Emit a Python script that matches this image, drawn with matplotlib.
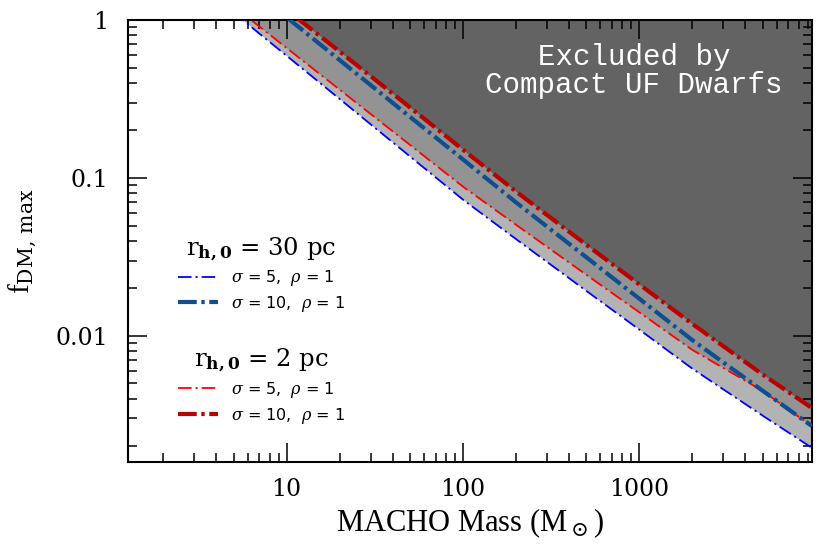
import numpy as np
import matplotlib.pyplot as plt

# MACHO mass grid (Msun) and upper limits on f_DM
mass = [5, 7, 10, 20, 50, 100, 200, 500, 1000, 2000, 5000, 9500]

# r_h,0 = 30 pc
f_r30_s5 = [1.12, 0.82, 0.594, 0.316, 0.137, 0.0729, 0.041, 0.0193, 0.01096, 0.0062, 0.00313, 0.00196]
f_r30_s10 = [1.94, 1.44, 1.04, 0.557, 0.244, 0.131, 0.070, 0.0315, 0.0172, 0.0094, 0.0045, 0.00269]
# r_h,0 = 2 pc
f_r2_s5 = [1.22, 0.91, 0.665, 0.362, 0.162, 0.0881, 0.0505, 0.0244, 0.0141, 0.00815, 0.00449, 0.00268]
f_r2_s10 = [2.15, 1.60, 1.16, 0.631, 0.28, 0.151, 0.082, 0.0378, 0.0212, 0.0119, 0.0057, 0.0035]

plt.rcParams['font.family'] = ['DejaVu Serif']
plt.rcParams['mathtext.fontset'] = 'dejavuserif'

fig = plt.figure(figsize=(8.3, 5.54), dpi=100)
ax = fig.add_axes([0.1542, 0.1652, 0.978 - 0.1542, 0.9639 - 0.1652])

top = np.ones(len(mass)) * 10
# shaded exclusion regions, lightest first
ax.fill_between(mass, f_r30_s5, top, color='#b3b3b3', lw=0, zorder=1)
ax.fill_between(mass, f_r2_s5, top, color='#939393', lw=0, zorder=1.1)
ax.fill_between(mass, f_r2_s10, top, color='#636363', lw=0, zorder=1.2)

thin = dict(lw=1.3, ls=(0, (7.5, 2.2, 1.2, 2.2)))
thick = dict(lw=3.0, ls=(0, (4.5, 1.1, 0.8, 1.1)))

l1, = ax.plot(mass, f_r30_s5, color='#0000ff', zorder=3, **thin)
l3, = ax.plot(mass, f_r2_s5, color='#ff0000', zorder=3, **thin)
l2, = ax.plot(mass, f_r30_s10, color='#0f4f8f', zorder=4, **thick)
l4, = ax.plot(mass, f_r2_s10, color='#bb0000', zorder=4, **thick)

ax.set_xscale('log')
ax.set_yscale('log')
ax.set_xlim(1.26, 9500)
ax.set_ylim(0.00158, 1)

ax.set_xticks([10, 100, 1000])
ax.set_xticklabels(['10', '100', '1000'])
ax.set_yticks([0.01, 0.1, 1])
ax.set_yticklabels(['0.01', '0.1', '1'])
ax.tick_params(which='both', direction='in', top=True, right=True, width=1.1, labelsize=17)
ax.tick_params(which='major', length=13.5)
ax.tick_params(which='minor', length=6.5)
ax.tick_params(axis='y', which='major', pad=14)
ax.tick_params(axis='x', which='major', pad=11)
for s in ax.spines.values():
    s.set_linewidth(1.5)

ax.set_xlabel(r'MACHO Mass (M$_\odot$)', family=['Liberation Serif'], fontsize=22, labelpad=4)
ax.set_ylabel(r'f$_{\rm DM,\,max}$', family=['Liberation Serif'], fontsize=21, labelpad=12)

ax.text(0.74, 0.885, 'Excluded by\nCompact UF Dwarfs', transform=ax.transAxes,
        ha='center', va='center', color='white', fontsize=21, family=['Liberation Mono'],
        linespacing=1.0, zorder=5)

leg_font = {'family': 'DejaVu Sans', 'size': 11.5}
title_font = {'family': 'DejaVu Serif', 'size': 17.5, 'math_fontfamily': 'dejavuserif'}
common = dict(frameon=False, loc='upper left', borderpad=0, borderaxespad=0,
              handlelength=2.5, handletextpad=0.8, labelspacing=0.35, prop=leg_font,
              title_fontproperties=title_font)
leg1 = ax.legend([l1, l2], [r'$\sigma$ = 5,  $\rho$ = 1', r'$\sigma$ = 10,  $\rho$ = 1'],
                 title=r'r$_{\mathbf{h,0}}$ = 30 pc', bbox_to_anchor=(0.073, 0.515), **common)
ax.add_artist(leg1)
leg2 = ax.legend([l3, l4], [r'$\sigma$ = 5,  $\rho$ = 1', r'$\sigma$ = 10,  $\rho$ = 1'],
                 title=r'r$_{\mathbf{h,0}}$ = 2 pc', bbox_to_anchor=(0.073, 0.262), **common)

fig.savefig('out.png', dpi=100)
